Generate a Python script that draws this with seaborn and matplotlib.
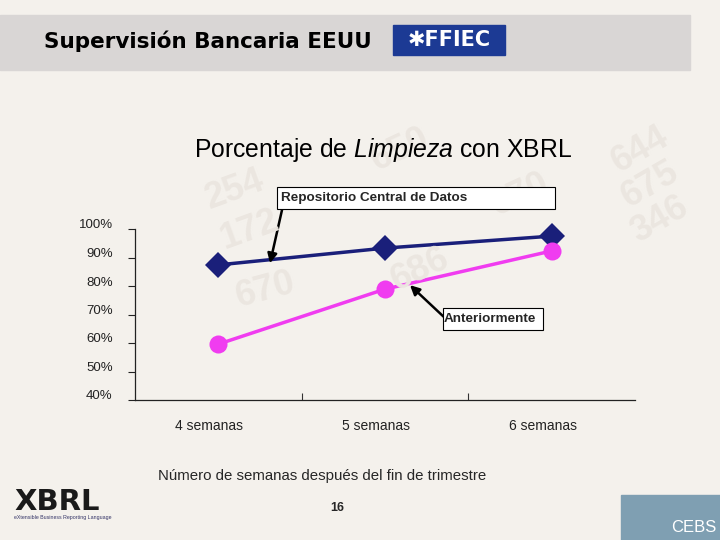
import pandas as pd
import seaborn as sns
import matplotlib.pyplot as plt
from matplotlib.patches import Rectangle
from matplotlib import transforms

semanas = ['4 semanas', '5 semanas', '6 semanas']
repositorio = [87.4, 93.3, 97.5]
anteriormente = [59.6, 78.9, 92.3]
y_ticks = [40, 50, 60, 70, 80, 90, 100]

df = pd.DataFrame({
    'semana': semanas * 2,
    'pct': repositorio + anteriormente,
    'serie': ['Repositorio Central de Datos'] * 3 + ['Anteriormente'] * 3,
})

sns.set_style('white')
plt.rcParams['font.family'] = ['Liberation Sans', 'DejaVu Sans']
plt.rcParams['mathtext.fontset'] = 'custom'
plt.rcParams['mathtext.rm'] = 'Liberation Sans'
plt.rcParams['mathtext.it'] = 'Liberation Sans:italic'

W, H = 720, 540


def fx(px):
    return px / W


def fy(py):
    return 1 - py / H


fig = plt.figure(figsize=(7.2, 5.4), dpi=100)
fig.patch.set_facecolor('#f4f1ec')

# faint background numbers of the slide picture
for txt, x, y, r in [('254', 235, 190, 20), ('172', 250, 230, 20), ('670', 265, 290, 15),
                     ('650', 400, 150, 25), ('644', 640, 150, 30), ('675', 650, 185, 30),
                     ('346', 660, 220, 30), ('670', 520, 195, 25), ('686', 420, 270, 25)]:
    fig.text(fx(x), fy(y), txt, fontsize=26, fontweight='bold', color='#ebe6e0',
             rotation=r, ha='center', va='center', zorder=0)

# header bar
fig.patches.append(Rectangle((0, fy(70)), fx(690), 55 / H,
                             transform=fig.transFigure, color='#d9d6d5', zorder=0))
fig.text(fx(44), fy(41), 'Supervisión Bancaria EEUU', fontsize=15.5, family='DejaVu Sans',
         fontweight='bold', color='black', va='center', ha='left')
fig.patches.append(Rectangle((fx(393), fy(55)), 112 / W, 30 / H,
                             transform=fig.transFigure, color='#1c3a94', zorder=1))
fig.text(fx(449), fy(40), '✱FFIEC', fontsize=15, fontweight='bold', family='DejaVu Sans',
         color='white', ha='center', va='center', zorder=2)

# chart title
fig.text(fx(383), fy(150), 'Porcentaje de $\\it{Limpieza}$ con XBRL',
         fontsize=17.8, color='black', ha='center', va='center')

ax = fig.add_axes([fx(135), fy(400), 500 / W, 171 / H])
ax.set_facecolor('none')

sns.lineplot(data=df, x='semana', y='pct', hue='serie', style='serie',
             palette={'Repositorio Central de Datos': '#1a1f7a', 'Anteriormente': '#f03cf0'},
             markers={'Repositorio Central de Datos': 'D', 'Anteriormente': 'o'},
             dashes=False, linewidth=2.5, markersize=13, markeredgewidth=0,
             legend=False, ax=ax, clip_on=False)

ax.set_xlim(-0.5, 2.5)
ax.set_ylim(40, 100)
ax.set_yticks(y_ticks)
ax.set_yticklabels([f'{v}%' for v in y_ticks], fontsize=9.5, color='#222222')
ax.set_xticks(range(len(semanas)))
ax.set_xticklabels(semanas, fontsize=10, color='#222222')
ax.set_xticks([0.5, 1.5], minor=True)
ax.tick_params(axis='x', which='major', bottom=True, length=0, pad=14)
ax.tick_params(axis='x', which='minor', bottom=True, length=5, direction='in',
               color='#333333', width=0.8)
ax.tick_params(axis='y', left=True, length=5, direction='out', pad=11,
               color='#222222', width=0.8)
shift = transforms.ScaledTranslation(-9 / 100, 0, fig.dpi_scale_trans)
for lab in ax.get_xticklabels():
    lab.set_transform(lab.get_transform() + shift)
yshift = transforms.ScaledTranslation(0, 5 / 100, fig.dpi_scale_trans)
for lab in ax.get_yticklabels():
    lab.set_transform(lab.get_transform() + yshift)
for s in ['top', 'right']:
    ax.spines[s].set_visible(False)
for s in ['bottom', 'left']:
    ax.spines[s].set_color('#222222')
    ax.spines[s].set_linewidth(0.9)
ax.set_xlabel('')
ax.set_ylabel('')

# annotation boxes
fig.patches.append(Rectangle((fx(277), fy(209)), 278 / W, 22 / H, transform=fig.transFigure,
                             fc='white', ec='black', lw=0.8, zorder=3))
fig.text(fx(281), fy(198), 'Repositorio Central de Datos', fontsize=9.7, fontweight='bold',
         ha='left', va='center', zorder=4)
fig.patches.append(Rectangle((fx(443), fy(330)), 100 / W, 22 / H, transform=fig.transFigure,
                             fc='white', ec='black', lw=0.8, zorder=3))
fig.text(fx(444), fy(319), 'Anteriormente', fontsize=9.7, fontweight='bold',
         ha='left', va='center', zorder=4)

ax.annotate('', xy=(0.31, 88.0), xytext=(282, H - 210), textcoords='figure pixels',
            annotation_clip=False,
            arrowprops=dict(arrowstyle='-|>', color='black', lw=1.8,
                            shrinkA=0, shrinkB=0, mutation_scale=14))
ax.annotate('', xy=(1.15, 80.3), xytext=(445, H - 318), textcoords='figure pixels',
            annotation_clip=False,
            arrowprops=dict(arrowstyle='-|>', color='black', lw=1.8,
                            shrinkA=0, shrinkB=0, mutation_scale=14))

fig.text(fx(322), fy(476), 'Número de semanas después del fin de trimestre',
         fontsize=10.8, ha='center', va='center')
fig.text(fx(337), fy(508), '16', fontsize=9, fontweight='bold',
         ha='center', va='center')

# logos
fig.text(fx(57), fy(502), 'XBRL', fontsize=21, fontweight='bold', family='DejaVu Sans',
         color='#1a1a1a', ha='center', va='center')
fig.text(fx(63), fy(518), 'eXtensible Business Reporting Language',
         fontsize=3.8, color='#333366', ha='center', va='center')
fig.patches.append(Rectangle((fx(621), 0), 99 / W, 45 / H,
                             transform=fig.transFigure, color='#7f9fb2', zorder=0))
fig.text(fx(694), fy(527), 'CEBS', fontsize=12, color='white',
         ha='center', va='center')

fig.savefig('out.png', dpi=100, facecolor=fig.get_facecolor())
